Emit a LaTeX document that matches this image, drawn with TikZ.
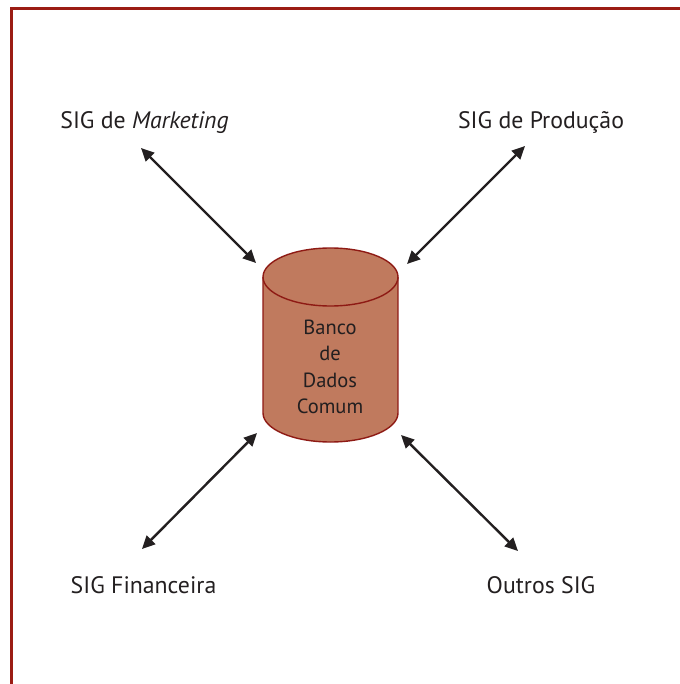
\documentclass[tikz,border=0pt]{standalone}
\usepackage{fontspec}
\setmainfont{PT Sans}
\usetikzlibrary{arrows.meta}
\definecolor{framered}{HTML}{9B1C14}
\definecolor{cylfill}{HTML}{C07A5E}
\definecolor{cyledge}{HTML}{8E1A14}
\definecolor{ink}{HTML}{231F20}
\tikzset{
  lbl/.style={font=\fontsize{23.8}{26}\selectfont, text=ink, inner sep=0pt, anchor=base},
  cyltext/.style={font=\fontsize{20.5}{26.5}\selectfont, text=ink, align=center, inner sep=0pt},
  link/.style={draw=ink, line width=2.4pt, {Triangle[length=13pt,width=12pt]}-{Triangle[length=13pt,width=12pt]}},
  framestyle/.style={draw=framered, line width=3pt},
}
\begin{document}
\begin{tikzpicture}[x=1pt,y=-1pt]
\useasboundingbox (0,0) rectangle (679,684);
\fill[white] (0,0) rectangle (679,684);
% frame
\draw[framestyle] (11,686) -- (11,9) -- (681,9);
% cylinder
\fill[cylfill] (263,277) rectangle (398,413);
\fill[cylfill] (330.5,413) ellipse[x radius=67.5,y radius=29];
\fill[cylfill] (330.5,277) ellipse[x radius=67.5,y radius=29];
\draw[cyledge, line width=1.4pt] (263,277) -- (263,413) arc[start angle=180,end angle=0,x radius=67.5,y radius=29] -- (398,277);
\draw[cyledge, line width=1.4pt] (330.5,277) ellipse[x radius=67.5,y radius=29];
\node[cyltext] (db) at (330,367) {Banco\\de\\Dados\\Comum};
% labels
\node[lbl] (mkt) at (144.5,128.5) {SIG de \textit{Marketing}};
\node[lbl] (prod) at (541,128.5) {SIG de Produção};
\node[lbl] (fin) at (143.5,593) {SIG Financeira};
\node[lbl] (out) at (541,593) {Outros SIG};
% arrow endpoints
\coordinate (a1) at (141,148); \coordinate (b1) at (256,263);
\coordinate (a2) at (525,146); \coordinate (b2) at (407,264);
\coordinate (a3) at (142,549); \coordinate (b3) at (257,433);
\coordinate (a4) at (518,551); \coordinate (b4) at (401,435);
\draw[link] (a1) -- (b1);
\draw[link] (a2) -- (b2);
\draw[link] (a3) -- (b3);
\draw[link] (a4) -- (b4);
\end{tikzpicture}
\end{document}
